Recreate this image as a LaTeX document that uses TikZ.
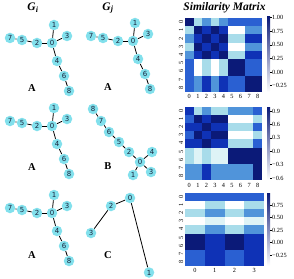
\documentclass[tikz,border=0pt]{standalone}
\usepackage{fontspec}
\setmainfont{Liberation Serif}
\newfontfamily\vertfont{DejaVu Sans}
\usetikzlibrary{positioning}
\definecolor{aqua}{RGB}{130,224,236}
\definecolor{ink}{RGB}{25,35,60}
\definecolor{lv0}{RGB}{255,255,255}
\definecolor{lv1}{RGB}{222,243,246}
\definecolor{lv2}{RGB}{168,220,234}
\definecolor{lv3}{RGB}{80,148,218}
\definecolor{lv4}{RGB}{42,96,210}
\definecolor{lv5}{RGB}{15,50,182}
\definecolor{lv6}{RGB}{11,26,120}
\tikzset{
  vert/.style={circle,fill=aqua,inner sep=0pt,minimum size=10.5pt,
    font=\vertfont\fontsize{7}{7}\selectfont,text=ink},
  link/.style={draw=black,line width=0.8pt},
  casename/.style={font=\fontsize{10.5}{10.5}\selectfont\bfseries},
  headline/.style={font=\fontsize{11.5}{11.5}\selectfont\bfseries\itshape},
  ticklabel/.style={font=\fontsize{6.3}{6.3}\selectfont,inner sep=0.5pt},
  cbar/.style={top color=lv6,middle color=lv3,bottom color=white},
}

\begin{document}
\begin{tikzpicture}[x=1pt,y=-1pt]
    \useasboundingbox (0,0) rectangle (294,278);
    % titles
    \node[headline] (ti) at (33,8) {G\textsubscript{i}};
    \node[headline] (tj) at (108,8) {G\textsubscript{j}};
    \node[headline] (tm) at (224.5,8) {Similarity Matrix};
    % tree A, four copies
    \foreach \g/\ox/\oy in {ga/52/43,gb/52/126,gc/52/213,gd/133/41}{
      \foreach \n/\dx/\dy in {0/0/0,1/2/-18,3/15/-7,2/-15/0,5/-30/-3,7/-42/-5,4/5/18,6/12/33,8/17/48}
        \node[vert] (\g\n) at (\ox+\dx,\oy+\dy) {\n};
      \foreach \u/\v in {7/5,5/2,2/0,0/1,0/3,0/4,4/6,6/8}
        \draw[link] (\g\u) -- (\g\v);
    }
    % tree B
    \foreach \n/\px/\py in {8/93/109,7/101/121,6/109/132,5/119/142,2/129/152,0/140/162,4/152/152,3/151/172,1/133/175}
      \node[vert] (b\n) at (\px,\py) {\n};
    \foreach \u/\v in {8/7,7/6,6/5,5/2,2/0,0/4,0/3,0/1}
      \draw[link] (b\u) -- (b\v);
    % graph C
    \foreach \n/\px/\py in {0/130/198,2/111/206,3/91/233,1/149/272.5}
      \node[vert] (c\n) at (\px,\py) {\n};
    \foreach \u/\v in {3/2,2/0,0/1}
      \draw[link] (c\u) -- (c\v);
    % case names
    \node[casename] (la) at (32,88) {A};
    \node[casename] (lb) at (32,167) {A};
    \node[casename] (lc) at (32,255) {A};
    \node[casename] (ld) at (108,87) {A};
    \node[casename] (le) at (108,166) {B};
    \node[casename] (lf) at (108,255) {C};
    % matrix 1
    \foreach \row [count=\r from 0] in {{6,2,3,2,3,4,4,4,4},{2,6,5,6,5,0,0,3,3},{3,5,6,5,6,2,2,5,5},
        {2,6,5,6,5,0,0,3,3},{3,5,6,5,6,2,2,5,5},{4,0,2,0,2,6,6,4,4},{4,0,2,0,2,6,6,4,4},
        {4,3,5,3,5,4,4,6,6},{4,3,5,3,5,4,4,6,6}}
      \foreach \v [count=\c from 0] in \row
        \fill[lv\v] (185+\c*8.54,18+\r*8.22) rectangle ++(8.6,8.3);
    % matrix 2
    \foreach \row [count=\r from 0] in {{5,2,3,2,2,3,3,3,4},{4,6,5,6,6,0,0,0,2},{5,5,6,5,5,2,2,2,4},
        {4,6,5,6,6,0,0,0,2},{5,5,6,5,5,2,2,2,4},{2,1,2,1,1,6,6,6,6},{2,1,2,1,1,6,6,6,6},
        {3,3,5,3,3,3,3,3,6},{3,3,5,3,3,3,3,3,6}}
      \foreach \v [count=\c from 0] in \row
        \fill[lv\v] (185+\c*8.54,107+\r*8.1) rectangle ++(8.6,8.2);
    % matrix 3
    \foreach \row [count=\r from 0] in {{4,4,4,4},{0,2,0,2},{2,3,2,3},{0,1,0,1},{2,3,2,3},
        {6,5,6,5},{6,5,6,5},{4,5,4,5},{4,5,4,5}}
      \foreach \v [count=\c from 0] in \row
        \fill[lv\v] (185+\c*19.75,193+\r*8.1) rectangle ++(19.8,8.2);
    % axis labels
    \foreach \r in {0,...,8}{
      \node[ticklabel,rotate=90] at (181,22.1+\r*8.22) {\r};
      \node[ticklabel,rotate=90] at (181,111+\r*8.1) {\r};
      \node[ticklabel,rotate=90] at (181,197+\r*8.1) {\r};
      \node[ticklabel] at (189.3+\r*8.54,96.5) {\r};
      \node[ticklabel] at (189.3+\r*8.54,185) {\r};
    }
    \foreach \c in {0,...,3}
      \node[ticklabel] at (194.9+\c*19.75,270.5) {\c};
    % colour bars
    \shade[cbar] (267,17) rectangle (270,92);
    \shade[cbar] (267,107) rectangle (270,180);
    \shade[cbar] (267,193) rectangle (270,266);
    \foreach \y/\t in {17.6/1.00,31.2/0.75,44.8/0.50,58.4/0.25,72/0.00,85.6/−0.25,
        111/0.9,124.4/0.6,137.8/0.3,151.2/0.0,164.6/−0.3,178/−0.6,
        205/0.75,217.5/0.50,230/0.25,242.5/0.00,255/−0.25}{
      \draw[line width=0.4pt] (270,\y) -- (271.5,\y);
      \node[ticklabel,anchor=west] at (271.5,\y) {\t};
    }
\end{tikzpicture}
\end{document}
